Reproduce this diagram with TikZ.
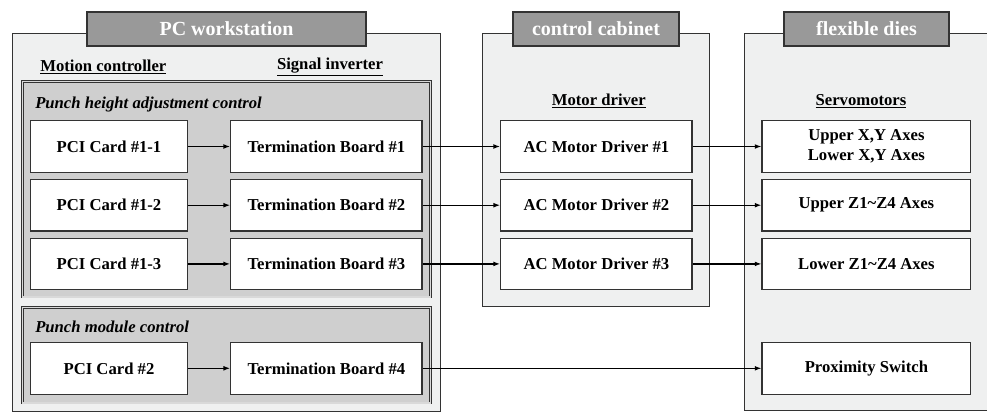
\documentclass[tikz,border=0pt]{standalone}
\usepackage{fontspec}
\setmainfont{Liberation Serif}
\usetikzlibrary{arrows.meta,fit}
\definecolor{panel}{HTML}{EFF0F0}
\definecolor{group}{HTML}{CFCFCF}
\definecolor{tabfill}{HTML}{999999}
\definecolor{edge}{HTML}{333333}
\begin{document}
\begin{tikzpicture}[x=0.75pt,y=-0.75pt,
  panelbox/.style={draw=edge, line width=0.75pt, fill=panel, inner sep=0pt},
  groupbox/.style={draw=edge, line width=0.45pt, double=white!85!black, double distance=0.9pt, fill=group, inner sep=0pt},
  tabbox/.style={draw=edge, line width=0.9pt, fill=tabfill, inner sep=0pt, text=white, font=\fontsize{15}{17}\selectfont\bfseries},
  box/.style={draw=edge, line width=0.9pt, fill=white, minimum height=38.7pt, inner sep=0pt, align=center, font=\fontsize{12.5}{15}\selectfont\bfseries},
  pcibox/.style={box, minimum width=117.5pt},
  tbbox/.style={box, minimum width=143.5pt},
  srvbox/.style={box, minimum width=156.5pt},
  hdr/.style={inner sep=0pt, font=\fontsize{12.5}{15}\selectfont\bfseries},
  grplabel/.style={inner sep=0pt, anchor=west, font=\fontsize{12.5}{15}\selectfont\bfseries\itshape},
  arr/.style={draw=black, line width=0.9pt, -{Latex[length=5pt,width=3.6pt]}}
]
\useasboundingbox (0,0) rectangle (987,412);
\clip (0,0) rectangle (987,412);

% panels
\node[panelbox, fit={(12.5,33) (440,411)}] (pc) {};
\node[panelbox, fit={(482.7,33) (709.3,306.7)}] (cab) {};
\node[panelbox, fit={(744,33) (1000,410)}] (dies) {};

% tabs
\node[tabbox, fit={(87,12) (366,46)}] (pctab) {};
\node[text=white, font=\fontsize{15}{17}\selectfont\bfseries] (pctitle) at (pctab.center) {PC workstation};
\node[tabbox, fit={(513,12) (679,46)}] (cabtab) {};
\node[text=white, font=\fontsize{15}{17}\selectfont\bfseries] (cabtitle) at (cabtab.center) {control cabinet};
\node[tabbox, fit={(784,12) (949,46)}] (diestab) {};
\node[text=white, font=\fontsize{15}{17}\selectfont\bfseries] (diestitle) at (diestab.center) {flexible dies};

% column headers
\node[hdr] (mc) at (103.3,67) {\underline{Motion controller}};
\node[hdr] (si) at (330,67) {\underline{Signal inverter}};
\node[hdr] (md) at (598.8,101) {\underline{Motor driver}};
\node[hdr] (sv) at (861,101) {\underline{Servomotors}};

% groups
\node[groupbox, fit={(22.5,81.5) (430.5,297)}] (gph) {};
\node[groupbox, fit={(22.5,307.5) (430.5,403)}] (gpm) {};
\node[grplabel] (gphl) at (35,104) {Punch height adjustment control};
\node[grplabel] (gpml) at (35,327) {Punch module control};

% boxes
\node[pcibox] (pci1) at (109,146.5) {PCI Card \#1-1};
\node[pcibox] (pci2) at (109,205.2) {PCI Card \#1-2};
\node[pcibox] (pci3) at (109,263.9) {PCI Card \#1-3};
\node[pcibox] (pci4) at (109,368.3) {PCI Card \#2};

\node[tbbox] (tb1) at (326.4,146.5) {Termination Board \#1};
\node[tbbox] (tb2) at (326.4,205.2) {Termination Board \#2};
\node[tbbox] (tb3) at (326.4,263.9) {Termination Board \#3};
\node[tbbox] (tb4) at (326.4,368.3) {Termination Board \#4};

\node[tbbox] (ac1) at (596.4,146.5) {AC Motor Driver \#1};
\node[tbbox] (ac2) at (596.4,205.2) {AC Motor Driver \#2};
\node[tbbox] (ac3) at (596.4,263.9) {AC Motor Driver \#3};

\node[srvbox] (sv1) at (866.4,146.5) {Upper X,Y Axes\\Lower X,Y Axes};
\node[srvbox] (sv2) at (866.4,205.2) {Upper Z1\textasciitilde Z4 Axes};
\node[srvbox] (sv3) at (866.4,263.9) {Lower Z1\textasciitilde Z4 Axes};
\node[srvbox] (prox) at (866.4,368.3) {Proximity Switch};

% connectors
\draw[arr] (pci1) -- (tb1);
\draw[arr] (pci2) -- (tb2);
\draw[arr] (pci3) -- (tb3);
\draw[arr] (pci4) -- (tb4);
\draw[arr] (tb1) -- (ac1);
\draw[arr] (tb2) -- (ac2);
\draw[arr] (tb3) -- (ac3);
\draw[arr] (ac1) -- (sv1);
\draw[arr] (ac2) -- (sv2);
\draw[arr] (ac3) -- (sv3);
\draw[arr] (tb4) -- (prox);
\end{tikzpicture}
\end{document}
